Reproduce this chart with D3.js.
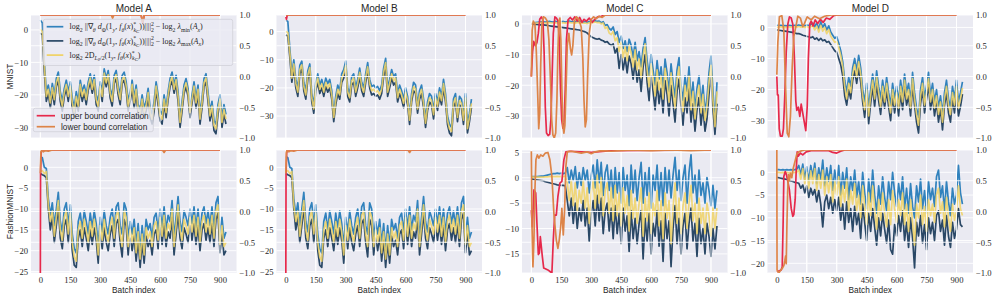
<!DOCTYPE html>
<html>
<head>
<meta charset="utf-8">
<script src="https://cdn.jsdelivr.net/npm/d3@7"></script>
<style>
  body { margin: 0; background: #fff; }
  .tick text { font-family: "Liberation Serif", serif; font-size: 8.6px; fill: #262626; }
  .lbl { font-family: "Liberation Sans", Arial, sans-serif; fill: #262626; }
</style>
</head>
<body>
<svg id="chart" width="997" height="299"></svg>
<script>
// ---------- data ----------
var batches = d3.range(0, 931, 10);
var xTicks = [0, 150, 300, 450, 600, 750, 900];
var corrTicks = [1.0, 0.5, 0.0, -0.5, -1.0];
var models = ["Model A", "Model B", "Model C", "Model D"];
var datasets = ["MNIST", "FashionMNIST"];
var corrLabels = ["upper bound correlation", "lower bound correlation"];

// MNIST, Model A
var blueMnistA = [3.0, 2.2, -10, -19, -17, -21, -16.5, -20, -15, -13,
  -19, -22, -18, -15.5, -19, -16, -21, -24, -19, -22,
  -15.5, -19, -17, -20, -16, -13.5, -17, -14, -20, -22,
  -16, -19, -12, -15, -12.5, -18, -20.5, -14, -12.5, -17,
  -20, -14, -13, -16, -22, -19, -15.5, -21, -17, -23,
  -24.5, -20, -24, -22, -18, -24, -26, -22, -16, -20,
  -25, -26, -20, -24, -19, -15, -13, -17, -14, -19,
  -27, -22, -17, -15, -18, -24, -20, -16, -21, -17,
  -26, -21, -15, -13.5, -19, -25, -22, -28, -29, -23,
  -20, -27, -23, -26];
var darkMnistA = [-1.0, -1.5, -13, -22, -19.5, -24, -19, -23, -17.5, -15.5,
  -22, -25, -20.5, -18, -22, -18.5, -24, -27, -22, -25,
  -18, -22, -19.5, -23, -18.5, -16, -19.5, -16.5, -23, -25,
  -18.5, -22, -14.5, -17.5, -15, -21, -23.5, -16.5, -15, -20,
  -23, -16.5, -15.5, -18.5, -25, -22, -18, -24, -19.5, -26,
  -27.5, -22.5, -27, -25, -20.5, -27, -29, -25, -18.5, -23,
  -28, -29, -22.5, -27, -21.5, -17.5, -15.5, -19.5, -16.5, -22,
  -30, -25, -19.5, -17.5, -20.5, -27, -22.5, -18.5, -24, -19.5,
  -29, -24, -17.5, -16, -22, -28, -25, -31, -32, -26,
  -22.5, -30, -26, -29];
var yellowMnistA = [0.2, -0.5, -11, -20.5, -18.3, -22.5, -17.8, -21.5, -16.3, -14.3,
  -20.5, -23.5, -19.3, -16.8, -20.5, -17.3, -22.5, -25.5, -20.5, -23.5,
  -16.8, -20.5, -18.3, -21.5, -17.3, -14.8, -18.3, -15.3, -21.5, -23.5,
  -17.3, -20.5, -13.3, -16.3, -13.8, -19.5, -22, -15.3, -13.8, -18.5,
  -21.5, -15.3, -14.3, -17.3, -23.5, -20.5, -16.8, -22.5, -18.3, -24.5,
  -26, -21.3, -25.5, -23.5, -19.3, -25.5, -27.5, -23.5, -17.3, -21.5,
  -26.5, -27.5, -21.3, -25.5, -20.3, -16.3, -14.3, -18.3, -15.3, -20.5,
  -28.5, -23.5, -18.3, -16.3, -19.3, -25.5, -21.3, -17.3, -22.5, -18.3,
  -27.5, -22.5, -16.3, -14.8, -20.5, -26.5, -23.5, -29.5, -30.5, -24.5,
  -21.3, -28.5, -24.5, -27.5];
var upperMnistA = [[0, 1], [505, 1], [513, 0.87], [521, 1], [900, 1]];
var lowerMnistA = [[0, 1], [355, 1], [362, 0.95], [369, 1], [505, 1], [513, 0.88], [521, 1], [900, 1]];

// MNIST, Model B
var blueMnistB = [4.0, 3.6, -6, -15, -10, -17, -20, -12, -10.5, -18,
  -21, -14, -11.5, -22, -26, -18, -15, -19, -17, -20,
  -16.5, -18.5, -17, -21, -29, -23, -19, -21, -15, -13.5,
  -10.5, -20, -22, -16, -15, -20, -17, -13, -18, -20,
  -15, -11, -17, -19.5, -19, -20, -19.5, -21, -19, -13,
  -9.5, -20, -17, -13.5, -16, -15, -22, -19, -21, -24,
  -20, -23, -30, -22, -18, -19, -26, -21, -19, -24,
  -31, -25, -22, -23, -28, -22, -25, -20, -23, -17,
  -22, -30, -33, -34, -24, -22, -29, -23, -24, -30,
  -22, -33, -29, -24];
var darkMnistB = [-1.2, -1.6, -9, -18, -13, -20, -23, -15, -13, -21,
  -24, -17, -14, -25, -29, -21, -18, -22, -20, -23,
  -19.5, -21.5, -20, -24, -32, -26, -22, -24, -18, -16.5,
  -13.5, -23, -25, -19, -18, -23, -20, -16, -21, -23,
  -18, -14, -20, -22.5, -22, -23, -22.5, -24, -22, -16,
  -12.5, -23, -20, -16.5, -19, -18, -25, -22, -24, -27,
  -23, -26, -33, -25, -21, -22, -29, -24, -22, -27,
  -34, -28, -25, -26, -31, -25, -28, -23, -26, -20,
  -25, -33, -36, -37, -27, -25, -32, -26, -27, -33,
  -25, -36, -32, -27];
var yellowMnistB = [0.0, -0.3, -7.5, -16.5, -11.5, -18.5, -21.5, -13.5, -11.8, -19.5,
  -22.5, -15.5, -12.8, -23.5, -27.5, -19.5, -16.5, -20.5, -18.5, -21.5,
  -18, -20, -18.5, -22.5, -30.5, -24.5, -20.5, -22.5, -16.5, -15,
  -12, -21.5, -23.5, -17.5, -16.5, -21.5, -18.5, -14.5, -19.5, -21.5,
  -16.5, -12.5, -18.5, -21, -20.5, -21.5, -21, -22.5, -20.5, -14.5,
  -11, -21.5, -18.5, -15, -17.5, -16.5, -23.5, -20.5, -22.5, -25.5,
  -21.5, -24.5, -31.5, -23.5, -19.5, -20.5, -27.5, -22.5, -20.5, -25.5,
  -32.5, -26.5, -23.5, -24.5, -29.5, -23.5, -26.5, -21.5, -24.5, -18.5,
  -23.5, -31.5, -34.5, -35.5, -25.5, -23.5, -30.5, -24.5, -25.5, -31.5,
  -23.5, -34.5, -30.5, -25.5];
var upperMnistB = [[0, 0.97], [3, 0.93], [7, 1], [900, 1]];
var lowerMnistB = [[0, 1], [900, 1]];

// MNIST, Model C
var blueMnistC = [0.0, 0.2, 0.4, 0.5, 0.6, 0.7, 0.7, 0.6, 0.7, 0.8,
  0.7, 0.6, 0.8, 0.7, 0.9, 0.7, 0.8, 0.6, 0.8, 0.9,
  0.7, 0.8, 0.6, 0.9, 0.7, 0.8, 0.6, 0.7, 0.5, 0.8,
  0.6, 0.9, 1.0, 0.8, 0.9, 0.4, 0.7, -0.5, -0.2, -1.5,
  -2.0, -1.0, -3.5, -2.5, -6.0, -4.0, -8.0, -5.5, -9.0, -5.0,
  -7.0, -11.0, -6.0, -12.0, -9.0, -14.0, -8.0, -4.5, -12.0, -17.0,
  -10.0, -15.0, -20.0, -12.0, -18.0, -14.0, -21.0, -11.5, -16.0, -22.0,
  -13.0, -19.0, -24.0, -15.0, -11.0, -20.0, -25.0, -17.0, -22.0, -14.0,
  -25.0, -19.0, -28.0, -21.0, -17.0, -26.0, -20.0, -29.0, -24.0, -16.0,
  -10.5, -22.0, -32.0, -19.0];
var darkMnistC = [0.0, -0.1, -0.2, -0.2, -0.3, -0.3, -0.3, -0.4, -0.5, -0.6,
  -0.7, -0.8, -0.9, -1.0, -1.0, -1.1, -1.2, -1.3, -1.4, -1.5,
  -1.6, -1.7, -1.8, -1.9, -2.0, -2.2, -2.4, -2.6, -3.0, -3.6,
  -4.2, -4.5, -4.8, -5.0, -4.8, -5.3, -5.5, -6.0, -5.8, -6.5,
  -7.0, -6.5, -9.5, -8.0, -14.5, -10.0, -15.0, -11.0, -16.0, -10.5,
  -13.0, -18.0, -12.0, -19.0, -15.0, -22.0, -14.0, -10.0, -19.0, -25.0,
  -17.0, -22.0, -28.0, -19.0, -26.0, -21.0, -29.0, -18.5, -23.0, -30.0,
  -20.0, -26.0, -32.0, -22.0, -18.0, -27.0, -33.0, -24.0, -29.0, -21.0,
  -32.0, -26.0, -35.0, -28.0, -24.0, -33.0, -27.0, -35.0, -31.0, -23.0,
  -17.0, -28.0, -36.0, -26.0];
var yellowMnistC = [0.3, 0.3, 0.3, 0.3, 0.4, 0.4, 0.3, 0.3, 0.4, 0.4,
  0.3, 0.3, 0.4, 0.3, 0.5, 0.3, 0.4, 0.2, 0.4, 0.5,
  0.3, 0.4, 0.2, 0.5, 0.3, 0.4, 0.2, 0.3, 0.1, 0.4,
  0.2, 0.5, 0.6, 0.4, 0.5, 0.0, 0.3, -1.5, -1.0, -3.0,
  -3.5, -2.5, -5.5, -4.5, -9.0, -6.0, -11.0, -7.5, -12.0, -7.0,
  -9.5, -14.0, -8.5, -15.0, -11.5, -17.5, -10.5, -6.5, -15.0, -20.5,
  -13.0, -18.0, -23.5, -15.0, -21.5, -17.0, -24.5, -14.5, -19.0, -25.5,
  -16.0, -22.0, -27.5, -18.0, -14.0, -23.0, -28.5, -20.0, -25.0, -17.0,
  -28.0, -22.0, -31.0, -24.0, -20.0, -29.0, -23.0, -31.5, -27.0, -19.0,
  -13.5, -25.0, -33.5, -22.0];
var upperMnistC = [[0, 0.0], [6, 0.4], [12, 0.57], [20, 0.5], [28, 0.55], [35, 0.7], [42, 0.93], [50, 0.97],
  [58, 0.92], [64, 0.4], [70, -0.5], [76, -0.92], [84, -0.96], [92, -0.94], [98, -0.7], [104, 0.0],
  [110, 0.7], [118, 0.97], [126, 0.95], [134, 0.9], [140, 0.6], [146, -0.2], [152, -0.7], [158, -0.84],
  [164, -0.75], [170, -0.2], [176, 0.6], [184, 0.92], [195, 0.96], [206, 0.92], [218, 0.97], [230, 0.9],
  [242, 0.96], [254, 0.88], [264, 0.93], [276, 0.9], [290, 0.95], [305, 0.88], [318, 0.93], [332, 0.97],
  [350, 0.98], [370, 1.0], [900, 1.0]];
var lowerMnistC = [[0, 0.0], [4, 0.75], [10, 0.9], [18, 0.85], [25, 0.4], [32, -0.3], [37, -0.85], [42, -0.6],
  [47, 0.2], [53, 0.85], [60, 0.97], [70, 0.95], [80, 0.9], [88, 0.6], [95, 0.0], [102, -0.7],
  [108, -0.95], [115, -1.0], [122, -0.92], [128, -0.4], [133, 0.4], [138, 0.9], [143, 0.95], [148, 0.6],
  [153, -0.2], [158, -0.8], [163, -0.92], [168, -0.8], [174, -0.2], [180, 0.5], [188, 0.7], [196, 0.45],
  [202, 0.35], [208, 0.5], [216, 0.9], [226, 0.97], [238, 0.93], [250, 0.8], [258, 0.3], [264, -0.4],
  [270, -0.82], [276, -0.7], [282, 0.0], [290, 0.7], [300, 0.93], [312, 0.97], [325, 0.94], [340, 0.98],
  [355, 0.96], [370, 1.0], [900, 1.0]];

// MNIST, Model D
var blueMnistD = [0.7, 0.6, 0.7, 0.5, 0.6, 0.5, 0.7, 0.6, 0.5, 0.7,
  0.6, 0.8, 0.6, 0.7, 0.5, 0.8, 0.6, 0.9, 1.4, 0.2,
  1.5, -0.5, 1.8, 0.0, 1.2, -0.8, 0.5, -1.5, -2.5, -3.5,
  -3.0, -5.0, -7.5, -11.0, -17.0, -21.0, -16.0, -19.0, -13.0, -10.0,
  -14.0, -9.0, -13.0, -20.0, -24.0, -18.0, -26.0, -20.0, -15.0, -21.0,
  -14.0, -19.0, -23.0, -17.0, -22.0, -16.0, -21.0, -25.0, -18.0, -23.0,
  -19.0, -24.0, -17.0, -22.0, -15.0, -21.0, -18.0, -24.0, -14.5, -21.0,
  -26.0, -29.0, -20.0, -16.0, -23.0, -19.0, -14.5, -22.0, -18.0, -24.0,
  -20.0, -26.0, -22.0, -28.0, -21.0, -17.0, -23.0, -26.0, -19.0, -23.0,
  -17.0, -24.0, -21.0, -17.5];
var darkMnistD = [-0.8, -0.9, -1.0, -1.1, -1.2, -1.3, -1.4, -1.5, -1.6, -1.8,
  -2.0, -2.0, -2.2, -2.5, -2.7, -2.9, -3.0, -3.3, -3.0, -3.8,
  -3.4, -4.2, -3.5, -4.3, -4.0, -4.8, -4.5, -5.5, -6.5, -7.5,
  -8.0, -10.0, -12.0, -15.5, -22.0, -25.0, -20.0, -23.0, -17.0, -14.0,
  -18.0, -13.0, -17.5, -24.0, -29.0, -22.0, -31.0, -24.5, -19.0, -25.5,
  -18.0, -23.5, -28.0, -21.0, -26.0, -20.0, -25.5, -30.0, -22.0, -27.5,
  -23.0, -28.5, -21.0, -26.5, -19.0, -25.0, -22.0, -28.5, -18.5, -25.0,
  -30.5, -34.0, -24.5, -20.0, -27.5, -23.0, -18.5, -26.5, -22.0, -28.5,
  -24.0, -30.5, -26.0, -33.0, -25.0, -21.0, -27.5, -30.5, -23.0, -27.5,
  -21.0, -28.5, -25.5, -21.5];
var yellowMnistD = [0.1, 0.1, 0.2, 0.0, 0.1, 0.0, 0.2, 0.1, 0.0, 0.2,
  0.1, 0.3, 0.1, 0.2, 0.0, 0.3, 0.0, 0.2, 0.5, -0.8,
  0.4, -1.5, 0.7, -1.2, 0.0, -2.0, -0.7, -2.8, -3.8, -4.8,
  -4.5, -6.5, -9.0, -12.5, -19.0, -23.0, -18.0, -21.0, -15.0, -12.0,
  -16.0, -11.0, -15.0, -22.0, -26.5, -20.0, -28.5, -22.0, -17.0, -23.0,
  -16.0, -21.0, -25.5, -19.0, -24.0, -18.0, -23.0, -27.5, -20.0, -25.0,
  -21.0, -26.0, -19.0, -24.0, -17.0, -23.0, -20.0, -26.0, -16.5, -23.0,
  -28.0, -31.5, -22.0, -18.0, -25.0, -21.0, -16.5, -24.0, -20.0, -26.0,
  -22.0, -28.0, -24.0, -30.5, -23.0, -19.0, -25.0, -28.0, -21.0, -25.0,
  -19.0, -26.0, -23.0, -19.5];
var upperMnistD = [[0, 0.0], [3, -0.3], [7, -0.3], [12, -0.85], [18, -0.97], [27, -0.97], [33, -0.85], [40, -0.3],
  [47, 0.4], [55, 0.85], [63, 0.97], [72, 0.95], [80, 0.85], [88, 0.3], [95, -0.4], [100, -0.55],
  [108, -0.5], [115, -0.65], [122, -0.45], [130, -0.6], [138, -0.75], [145, -0.88], [152, -0.5], [158, 0.3],
  [165, 0.85], [172, 0.9], [182, 0.82], [192, 0.92], [205, 0.86], [218, 0.93], [232, 0.88], [248, 0.95],
  [265, 0.93], [285, 0.99], [300, 1.0], [900, 1.0]];
var lowerMnistD = [[0, 0.03], [5, 0.55], [13, 0.97], [25, 0.99], [35, 0.75], [43, -0.1], [52, -0.92], [60, -0.98],
  [68, -0.65], [77, 0.16], [85, 0.65], [97, 0.84], [105, 0.98], [118, 0.95], [130, 0.81], [138, 0.86],
  [152, 0.97], [172, 0.92], [189, 0.98], [214, 0.94], [239, 0.98], [272, 1.0], [900, 1.0]];

// FashionMNIST, Model A (Model B shows the same curves)
var blueFashionA = [2.6, 2.3, 0.0, -0.3, -7.5, -11.5, -8.5, -14.0, -10.0, -6.0,
  -13.0, -15.5, -10.0, -8.5, -14.0, -9.0, -16.0, -19.5, -20.5, -13.0,
  -11.0, -15.0, -10.5, -13.0, -16.0, -11.0, -14.5, -10.5, -13.5, -19.0,
  -12.0, -15.5, -10.5, -14.0, -16.0, -12.0, -10.0, -15.0, -9.5, -8.5,
  -14.0, -16.0, -8.5, -10.0, -17.0, -13.0, -16.0, -12.5, -18.5, -13.5,
  -20.0, -14.0, -19.0, -12.5, -15.0, -13.5, -17.0, -12.0, -11.0, -15.5,
  -10.0, -14.5, -9.5, -15.0, -11.5, -13.0, -8.0, -17.0, -12.0, -7.0,
  -13.0, -15.5, -10.5, -12.0, -14.0, -10.0, -13.5, -9.5, -14.5, -10.0,
  -16.0, -11.0, -9.5, -13.5, -10.5, -14.0, -9.5, -15.0, -8.5, -7.0,
  -16.5, -12.0, -17.0, -15.5];
var darkFashionA = [-1.5, -1.8, -2.0, -2.5, -10.0, -15.0, -12.0, -18.0, -14.0, -9.5,
  -17.0, -19.5, -14.0, -12.5, -18.0, -13.0, -20.0, -23.5, -24.0, -17.0,
  -15.0, -19.0, -14.5, -17.0, -20.0, -15.0, -18.5, -14.5, -17.5, -23.0,
  -16.0, -19.5, -14.5, -18.0, -20.0, -16.0, -14.0, -19.0, -13.5, -12.5,
  -18.0, -21.5, -12.5, -14.0, -21.0, -17.0, -20.0, -16.5, -22.5, -17.5,
  -24.0, -18.0, -23.0, -16.5, -19.0, -17.5, -21.0, -16.0, -15.0, -19.5,
  -14.0, -18.5, -13.5, -19.0, -15.5, -17.0, -12.0, -21.0, -16.0, -11.0,
  -17.0, -19.5, -14.5, -16.0, -18.0, -14.0, -17.5, -13.5, -18.5, -14.0,
  -20.0, -15.0, -13.5, -17.5, -14.5, -18.0, -13.5, -19.0, -12.5, -11.0,
  -20.5, -16.0, -21.0, -20.0];
var yellowFashionA = [-1.0, -0.8, -1.5, -1.0, -9.0, -13.0, -10.5, -16.5, -12.0, -8.0,
  -15.0, -17.5, -12.0, -10.5, -16.0, -11.0, -18.0, -21.5, -22.5, -15.0,
  -13.0, -17.0, -12.5, -15.0, -18.0, -13.0, -16.5, -12.5, -15.5, -21.0,
  -14.0, -17.5, -12.5, -16.0, -18.0, -14.0, -12.0, -17.0, -11.5, -10.5,
  -16.0, -19.0, -10.5, -12.0, -19.0, -15.0, -18.0, -14.5, -20.5, -15.5,
  -22.0, -16.0, -21.0, -14.5, -17.0, -15.5, -19.0, -14.0, -13.0, -17.5,
  -12.0, -16.5, -11.5, -17.0, -13.5, -15.0, -10.0, -19.0, -14.0, -9.0,
  -15.0, -17.5, -12.5, -14.0, -16.0, -12.0, -15.5, -11.5, -16.5, -12.0,
  -18.0, -13.0, -11.5, -15.5, -12.5, -16.0, -11.5, -17.0, -10.5, -9.0,
  -18.5, -14.0, -19.0, -18.0];
var upperFashionA = [[0, -1.0], [1, 0.6], [4, 0.95], [8, 1.0], [900, 1.0]];
var lowerFashionA = [[0, 0.62], [3, 0.97], [8, 1.0], [15, 0.97], [25, 0.99], [40, 0.98], [60, 1.0],
  [612, 1.0], [620, 0.96], [628, 1.0], [900, 1.0]];
var blueFashionB = blueFashionA, darkFashionB = darkFashionA, yellowFashionB = yellowFashionA;
var upperFashionB = upperFashionA, lowerFashionB = lowerFashionA;

// FashionMNIST, Model C
var blueFashionC = [0.2, 0.2, 0.2, 0.2, 0.25, 0.3, 0.3, 0.4, 0.5, 0.6,
  0.7, 0.8, 0.8, 0.9, 0.8, 0.9, 0.8, 0.9, 2.0, -1.0,
  1.5, -0.5, 2.2, -2.0, 1.0, -1.5, 2.0, -0.5, 1.5, -3.0,
  0.5, 2.5, -2.0, 3.5, -1.0, 3.0, -3.5, 1.0, 2.5, -2.5,
  1.5, -4.0, 2.0, -3.0, 1.0, -5.0, 2.0, -2.5, 0.5, -5.5,
  2.5, -3.0, 1.5, -4.5, 0.0, 3.0, -5.0, 1.0, -3.5, 2.0,
  -6.0, 0.5, -2.5, 2.5, -4.5, 1.0, -5.5, 2.0, -3.0, 1.5,
  -4.0, 0.5, 4.0, -2.5, 1.5, -4.5, 0.0, 2.5, -5.0, 1.0,
  4.5, -3.0, 0.5, -5.0, 1.5, -3.5, -1.0, -5.0, 0.0, -2.5,
  -5.5, -1.5, -6.0, -2.5];
var darkFashionC = [-0.3, -0.35, -0.4, -0.45, -0.5, -0.55, -0.6, -0.8, -0.9, -1.0,
  -1.1, -1.2, -1.3, -1.4, -1.45, -1.5, -1.5, -1.6, -4.5, -7.5,
  -4.0, -9.0, -5.0, -10.0, -6.0, -8.5, -4.5, -9.5, -6.0, -12.5,
  -7.0, -4.5, -9.5, -3.5, -8.5, -4.0, -11.0, -6.5, -5.0, -10.5,
  -6.0, -12.0, -5.5, -11.0, -7.0, -13.0, -6.0, -10.5, -7.5, -14.5,
  -6.5, -12.0, -8.0, -13.0, -9.0, -6.5, -16.0, -8.0, -12.5, -7.0,
  -15.0, -9.0, -11.5, -6.5, -13.5, -8.5, -16.5, -7.0, -12.0, -8.5,
  -17.5, -10.0, -5.5, -13.0, -8.0, -15.0, -9.5, -7.0, -14.0, -9.0,
  -6.0, -12.5, -9.0, -15.5, -8.0, -13.0, -10.0, -15.0, -9.0, -11.5,
  -15.5, -10.0, -14.0, -9.5];
var yellowFashionC = [0.1, 0.1, 0.1, 0.1, 0.1, 0.1, 0.1, 0.15, 0.15, 0.2,
  0.2, 0.2, 0.2, 0.25, 0.2, 0.25, 0.2, 0.3, -1.0, -4.5,
  -0.5, -5.5, -1.0, -6.5, -2.5, -5.0, -0.5, -6.0, -2.0, -9.0,
  -3.0, -0.5, -6.0, 0.5, -5.0, 0.0, -7.5, -2.5, -1.0, -7.0,
  -2.0, -8.5, -1.5, -7.5, -3.0, -9.5, -2.0, -7.0, -3.5, -10.5,
  -2.5, -8.0, -4.0, -9.0, -5.0, -2.0, -11.5, -4.0, -8.5, -3.0,
  -11.0, -5.0, -7.5, -2.5, -9.5, -4.5, -12.0, -3.0, -8.0, -4.5,
  -13.0, -6.0, -1.0, -9.0, -4.0, -11.0, -5.5, -3.0, -10.0, -5.0,
  -1.5, -8.5, -5.0, -11.0, -4.0, -9.0, -6.0, -11.0, -5.0, -7.5,
  -11.5, -6.0, -10.0, -6.0];
var upperFashionC = [[0, 0.02], [5, -0.25], [13, 0.35], [22, 0.3], [28, -0.19], [35, -0.7], [40, -0.68], [45, -0.41],
  [50, -0.57], [55, -0.73], [62, -0.92], [70, -0.93], [83, -0.95], [95, -0.98], [103, -1.0], [110, -0.46],
  [117, -0.06], [125, -0.06], [133, 0.24], [143, 0.46], [153, 0.49], [163, 0.84], [173, 0.97], [192, 0.98],
  [250, 0.97], [300, 0.96], [400, 0.99], [900, 1.0]];
var lowerFashionC = [[0, 0.98], [3, -0.19], [8, -0.9], [13, -0.46], [18, 0.35], [23, 0.84], [30, 0.92], [38, 0.87],
  [47, 0.92], [58, 0.9], [70, 0.95], [83, 0.96], [93, 0.84], [103, 0.57], [113, -0.03], [125, -0.46],
  [133, -0.6], [140, -0.46], [147, -0.25], [153, 0.05], [160, -0.38], [167, 0.05], [173, 0.73], [180, 0.97],
  [200, 0.98], [250, 0.95], [280, 0.97], [300, 0.94], [320, 0.97], [350, 0.99], [400, 0.98], [500, 1.0],
  [600, 0.99], [700, 1.0], [800, 0.99], [900, 1.0]];

// FashionMNIST, Model D
var blueFashionD = [0.6, 0.6, 0.5, 0.6, 0.5, 0.6, 0.5, 0.6, 0.5, 0.6,
  0.7, 1.5, -0.5, 1.8, -1.5, 1.2, -2.0, 1.5, -1.0, 2.0,
  -2.5, 1.0, -1.5, 2.7, -3.0, 1.0, -2.0, 1.5, -4.0, 0.5,
  -2.5, 1.5, -5.0, 0.0, -3.5, 1.0, -6.0, -1.0, -4.0, 0.5,
  -5.5, -2.0, -7.0, 0.0, -4.5, -8.0, -1.5, -6.5, 0.5, -5.0,
  -9.0, -3.0, -7.0, -1.0, -5.5, -8.5, -2.0, -6.0, 0.0, -4.5,
  -7.5, -2.5, -6.0, -1.0, -8.0, -3.5, -9.0, -2.5, -7.5, -10.0,
  -3.0, -6.5, -1.5, -8.0, -4.0, -9.0, -2.0, -6.0, -3.5, -7.5,
  -1.0, 0.5, -5.5, -3.0, -8.5, -2.0, -6.5, -9.5, -3.5, -7.0,
  -5.0, 1.5, -4.5, -7.0];
var darkFashionD = [-1.1, -1.2, -1.3, -1.4, -1.5, -1.6, -1.8, -1.9, -2.0, -2.2,
  -2.3, -2.4, -3.5, -2.8, -4.5, -3.0, -5.5, -3.5, -5.0, -3.8,
  -6.5, -4.0, -7.0, -12.0, -6.5, -5.0, -8.0, -5.5, -9.0, -6.0,
  -8.5, -5.5, -10.5, -7.0, -12.5, -6.5, -11.0, -8.0, -13.0, -7.5,
  -11.5, -9.0, -14.5, -7.0, -11.0, -15.0, -9.0, -13.0, -8.0, -12.0,
  -16.0, -10.0, -14.0, -9.0, -12.5, -15.5, -10.5, -17.0, -18.0, -11.5,
  -14.0, -9.5, -13.0, -8.5, -15.0, -11.0, -16.5, -10.0, -14.5, -21.0,
  -11.0, -14.0, -9.5, -15.5, -11.5, -17.0, -10.0, -13.5, -11.0, -15.0,
  -9.5, -8.5, -13.0, -10.5, -16.0, -9.5, -14.0, -16.5, -11.0, -14.5,
  -12.5, -8.0, -11.5, -12.0];
var yellowFashionD = [0.0, 0.0, -0.1, 0.0, -0.1, 0.0, -0.1, 0.0, -0.1, 0.0,
  0.0, 0.5, -1.5, 0.8, -2.5, 0.0, -3.5, 0.3, -2.5, 0.8,
  -4.0, -0.5, -3.5, 0.5, -5.0, -1.0, -4.5, -0.5, -6.5, -2.0,
  -5.0, -1.0, -7.5, -3.0, -6.5, -1.5, -8.5, -4.0, -7.0, -2.5,
  -8.5, -5.0, -10.0, -3.0, -7.5, -11.5, -4.5, -9.5, -3.0, -8.0,
  -12.5, -6.0, -10.5, -4.5, -9.0, -12.0, -6.0, -11.5, -4.0, -8.0,
  -11.0, -6.0, -9.5, -4.5, -11.5, -7.0, -13.0, -6.0, -11.0, -16.0,
  -7.0, -10.0, -5.0, -11.5, -7.5, -13.0, -6.0, -9.5, -7.0, -11.0,
  -5.0, -3.5, -9.0, -6.5, -12.0, -5.5, -10.0, -13.0, -7.0, -10.5,
  -8.5, -3.0, -8.0, -9.5];
var upperFashionD = [[0, -0.98], [22, -0.95], [27, -0.9], [32, -0.1], [35, 0.57], [42, 0.65], [48, 0.6], [55, 0.49],
  [63, 0.35], [72, 0.05], [80, -0.08], [85, -0.05], [92, 0.2], [97, 0.67], [102, 0.97], [108, 0.9],
  [118, 0.95], [130, 0.92], [147, 0.97], [172, 0.99], [260, 0.99], [280, 0.96], [300, 0.95], [320, 0.98],
  [340, 1.0], [900, 1.0]];
var lowerFashionD = [[0, 1.0], [1, -0.95], [5, -0.98], [12, -0.99], [20, -0.95], [28, -0.92], [35, -0.88], [40, -0.8],
  [44, -0.72], [47, -0.85], [50, -0.3], [54, 0.3], [58, 0.6], [63, 0.5], [68, 0.62], [75, 0.55],
  [82, 0.7], [90, 0.8], [100, 0.93], [110, 0.97], [125, 0.99], [140, 1.0], [900, 1.0]];

// ---------- layout ----------
var svg = d3.select('#chart');
var colLeft = [31, 276.5, 522, 767.5], rowTop = [15, 150];
var pw = 205.5, ph = 123;
var xDomain = [-46.8, 982.8];
var colors = { blue: '#3182bd', dark: '#2a4866', yellow: '#f0d264', upper: '#e6294b', lower: '#dd8448' };

var panels = [
  { row: 0, col: 0, blue: blueMnistA, dark: darkMnistA, yellow: yellowMnistA, upper: upperMnistA, lower: lowerMnistA, yDomain: [-33.3, 4.6], yTicks: [0, -10, -20, -30] },
  { row: 0, col: 1, blue: blueMnistB, dark: darkMnistB, yellow: yellowMnistB, upper: upperMnistB, lower: lowerMnistB, yDomain: [-37.8, 5.9], yTicks: [0, -10, -20, -30] },
  { row: 0, col: 2, blue: blueMnistC, dark: darkMnistC, yellow: yellowMnistC, upper: upperMnistC, lower: lowerMnistC, yDomain: [-37.2, 2.9], yTicks: [0, -10, -20, -30] },
  { row: 0, col: 3, blue: blueMnistD, dark: darkMnistD, yellow: yellowMnistD, upper: upperMnistD, lower: lowerMnistD, yDomain: [-35.6, 4.0], yTicks: [0, -10, -20, -30] },
  { row: 1, col: 0, blue: blueFashionA, dark: darkFashionA, yellow: yellowFashionA, upper: upperFashionA, lower: lowerFashionA, yDomain: [-25.35, 4.15], yTicks: [0, -5, -10, -15, -20, -25] },
  { row: 1, col: 1, blue: blueFashionB, dark: darkFashionB, yellow: yellowFashionB, upper: upperFashionB, lower: lowerFashionB, yDomain: [-25.35, 4.15], yTicks: [0, -5, -10, -15, -20, -25] },
  { row: 1, col: 2, blue: blueFashionC, dark: darkFashionC, yellow: yellowFashionC, upper: upperFashionC, lower: lowerFashionC, yDomain: [-18.76, 5.45], yTicks: [5, 0, -5, -10, -15] },
  { row: 1, col: 3, blue: blueFashionD, dark: darkFashionD, yellow: yellowFashionD, upper: upperFashionD, lower: lowerFashionD, yDomain: [-22.13, 4.9], yTicks: [0, -5, -10, -15, -20] }
];

function gridLines(g, ticks, scale, vertical) {
  g.append('g').selectAll('line').data(ticks).join('line')
    .attr('x1', function(d) { return vertical ? scale(d) : 0; })
    .attr('x2', function(d) { return vertical ? scale(d) : pw; })
    .attr('y1', function(d) { return vertical ? 0 : scale(d); })
    .attr('y2', function(d) { return vertical ? ph : scale(d); })
    .attr('stroke', '#fff').attr('stroke-width', 0.9);
}

function drawPanel(p) {
  var g = svg.append('g').attr('transform', 'translate(' + colLeft[p.col] + ',' + rowTop[p.row] + ')');
  var x = d3.scaleLinear().domain(xDomain).range([0, pw]);
  var y = d3.scaleLinear().domain(p.yDomain).range([ph, 0]);
  var yr = d3.scaleLinear().domain([-1, 1]).range([ph, 0]);
  var clipId = 'clip' + p.row + p.col;

  g.append('clipPath').attr('id', clipId)
    .append('rect').attr('width', pw).attr('height', ph);
  g.append('rect').attr('width', pw).attr('height', ph).attr('fill', '#eaeaf2');

  // grid of the left axis
  gridLines(g, p.yTicks, y, false);
  gridLines(g, xTicks, x, true);

  var plot = g.append('g').attr('clip-path', 'url(#' + clipId + ')');
  var line = d3.line().x(function(d, i) { return x(batches[i]); }).y(function(d) { return y(d); });
  [['blue', 1], ['dark', 1], ['yellow', 0.85]].forEach(function(s) {
    plot.append('path').datum(p[s[0]]).attr('d', line)
      .attr('fill', 'none').attr('stroke', colors[s[0]]).attr('stroke-width', 1.7)
      .attr('stroke-linejoin', 'round').attr('opacity', s[1]);
  });

  // twin axis grid sits over the left curves
  gridLines(g, corrTicks, yr, false);
  gridLines(g, xTicks, x, true);

  var cplot = g.append('g').attr('clip-path', 'url(#' + clipId + ')');
  var cline = d3.line().x(function(d) { return x(d[0]); }).y(function(d) { return yr(d[1]); });
  ['upper', 'lower'].forEach(function(k) {
    cplot.append('path').datum(p[k]).attr('d', cline)
      .attr('fill', 'none').attr('stroke', colors[k]).attr('stroke-width', 1.7)
      .attr('stroke-linejoin', 'round');
  });

  // axes
  g.append('g')
    .call(d3.axisLeft(y).tickValues(p.yTicks).tickSize(0).tickPadding(3).tickFormat(d3.format('d')))
    .call(function(a) { a.select('.domain').remove(); });
  g.append('g').attr('transform', 'translate(' + pw + ',0)')
    .call(d3.axisRight(yr).tickValues(corrTicks).tickSize(0).tickPadding(3).tickFormat(d3.format('.1f')))
    .call(function(a) { a.select('.domain').remove(); });

  if (p.row === 1) {
    g.append('g').attr('transform', 'translate(0,' + ph + ')')
      .call(d3.axisBottom(x).tickValues(xTicks).tickSize(0).tickPadding(3.5).tickFormat(d3.format('d')))
      .call(function(a) { a.select('.domain').remove(); });
    g.append('text').attr('class', 'lbl').attr('x', pw / 2).attr('y', ph + 20)
      .attr('text-anchor', 'middle').attr('font-size', 8.3).text('Batch index');
  } else {
    g.append('text').attr('class', 'lbl').attr('x', pw / 2).attr('y', -3.5)
      .attr('text-anchor', 'middle').attr('font-size', 10).text(models[p.col]);
  }
  if (p.col === 0) {
    g.append('text').attr('class', 'lbl')
      .attr('transform', 'translate(' + (13 - colLeft[0]) + ',' + (ph / 2) + ') rotate(-90)')
      .attr('text-anchor', 'middle').attr('font-size', 8.3).text(datasets[p.row]);
  }
  return g;
}

var gA;
panels.forEach(function(p, i) {
  var g = drawPanel(p);
  if (i === 0) gA = g;
});

// ---------- legends (panel MNIST / Model A) ----------
var SUB = 2.1, SUP = -3.2, SS = 3.6;
function mathLine(t, parts) {
  var cur = 0;
  parts.forEach(function(q) {
    var s = q[1] || 0;
    var ts = t.append('tspan').text(q[0])
      .attr('dy', s - cur)
      .attr('font-size', s === 0 ? 8 : (Math.abs(s) > 3.4 ? 4.8 : 5.8))
      .attr('font-style', q[2] ? 'italic' : 'normal');
    if (q[3]) ts.attr('dx', q[3]);
    cur = s;
  });
}
function gradParts(which) {
  return [['log'], ['2', SUB], [' ||\u2207'], ['\u03b8', SUB, 1], [' d', 0, 1], ['\u03a6', SUB], ['(1'], ['y', SUB, 1],
    [', '], ['f', 0, 1], ['\u03b8', SUB, 1], ['('], ['x', 0, 1], [')'], ['*', SUP], ['k', SUB, 1, -2.6], ['C', SS, 1],
    ['))||||'], ['2', SUP], ['2', SUB, 0, -3], [' \u2212 log'], ['2', SUB], [' \u03bb', 0, 1], [which, SUB],
    ['('], ['A', 0, 1], ['x', SUB, 1], [')']];
}
var mathEntries = [
  { color: colors.blue, parts: gradParts('min') },
  { color: colors.dark, parts: gradParts('max') },
  { color: colors.yellow, parts: [['log'], ['2', SUB], [' 2D'], ['L', SUB, 1], ['\u03b8', SS, 1], ['/2', SUB], ['(1'],
    ['y', SUB, 1], [', '], ['f', 0, 1], ['\u03b8', SUB, 1], ['('], ['x', 0, 1], [')'], ['*', SUP], ['k', SUB, 1, -2.6],
    ['C', SS, 1], [')']] }
];

var leg1 = gA.append('g');
leg1.append('rect').attr('x', 12.3).attr('y', 4.3).attr('width', 189.4).attr('height', 46.2)
  .attr('rx', 2).attr('fill', '#eaeaf2').attr('fill-opacity', 0.8).attr('stroke', '#d0d0d8').attr('stroke-width', 0.8);
mathEntries.forEach(function(e, i) {
  var cy = 11.7 + i * 14.2;
  leg1.append('line').attr('x1', 15.7).attr('x2', 32.3).attr('y1', cy).attr('y2', cy)
    .attr('stroke', e.color).attr('stroke-width', 1.7);
  var t = leg1.append('text').attr('x', 38.5).attr('y', cy + 2.7)
    .attr('font-family', '"Liberation Serif", serif').attr('fill', '#262626');
  mathLine(t, e.parts);
});

var leg2 = gA.append('g');
leg2.append('rect').attr('x', 2.3).attr('y', 93.3).attr('width', 120).attr('height', 23.4)
  .attr('rx', 2).attr('fill', '#eaeaf2').attr('fill-opacity', 0.8).attr('stroke', '#d0d0d8').attr('stroke-width', 0.8);
[colors.upper, colors.lower].forEach(function(c, i) {
  var cy = 100.7 + i * 11;
  leg2.append('line').attr('x1', 5.7).attr('x2', 24).attr('y1', cy).attr('y2', cy)
    .attr('stroke', c).attr('stroke-width', 1.7);
  leg2.append('text').attr('class', 'lbl').attr('x', 30).attr('y', cy + 2.9)
    .attr('font-size', 8.3).text(corrLabels[i]);
});
</script>
</body>
</html>
